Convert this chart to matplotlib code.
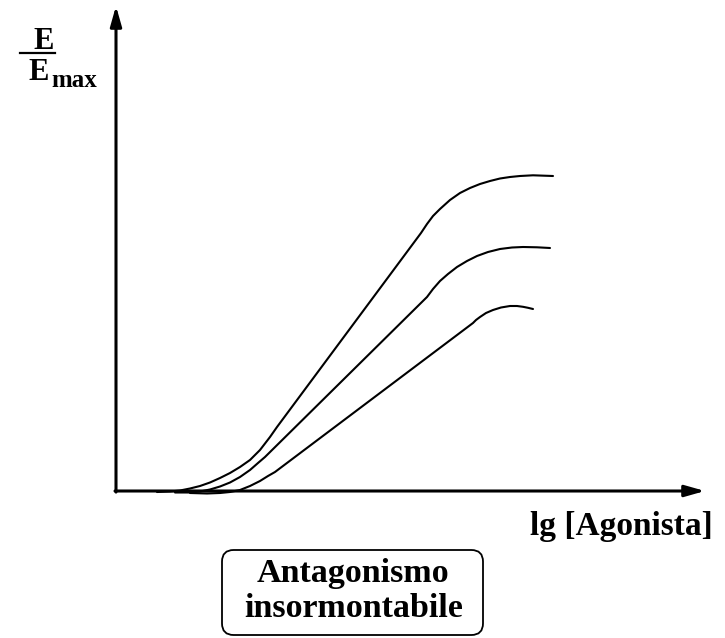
import matplotlib
matplotlib.use("Agg")
import matplotlib.pyplot as plt
from matplotlib.patches import FancyBboxPatch
from matplotlib.lines import Line2D

# Dose-response curves: x = lg[agonist] (arbitrary units), y = effect (% of scale)
# Control curve
lg_a = [0.82, 1.08, 1.28, 1.48, 1.68, 1.88, 2.08, 2.28, 2.48, 2.68, 2.88, 3.08, 3.22,
        6.10, 6.22, 6.34, 6.48, 6.68, 6.88, 7.08, 7.28, 7.48, 7.68, 7.88, 8.08, 8.34, 8.74]
eff_a = [-0.25, -0.125, 0.125, 0.625, 1.25, 2.125, 3.25, 4.5, 6.0, 7.75, 10.25, 13.5, 16.0,
         64.5, 66.75, 68.75, 70.5, 72.75, 74.5, 75.75, 76.75, 77.5, 78.125, 78.5, 78.75, 78.925, 78.75]
# Low antagonist concentration
lg_b = [1.18, 1.48, 1.68, 1.88, 2.08, 2.28, 2.48, 2.68, 2.84, 2.98,
        6.22, 6.34, 6.48, 6.64, 6.82, 7.02, 7.22, 7.44, 7.68, 7.92, 8.14, 8.42, 8.68]
eff_b = [-0.375, -0.375, -0.125, 0.375, 1.125, 2.125, 3.5, 5.25, 7.0, 8.5,
         48.5, 50.5, 52.5, 54.25, 56.0, 57.5, 58.75, 59.75, 60.5, 60.875, 61.0, 60.925, 60.75]
# High antagonist concentration
lg_c = [1.48, 1.82, 2.08, 2.28, 2.48, 2.68, 2.88, 3.04, 3.18,
        7.14, 7.20, 7.28, 7.40, 7.54, 7.70, 7.88, 8.02, 8.14, 8.24, 8.34]
eff_c = [-0.5, -0.625, -0.5, -0.25, 0.25, 1.25, 2.5, 3.75, 4.75,
         42.0, 42.75, 43.5, 44.5, 45.25, 45.875, 46.25, 46.25, 46.05, 45.8, 45.5]

series = [(lg_a, eff_a), (lg_b, eff_b), (lg_c, eff_c)]

y_label_top = "E"
y_label_bottom = "E"
y_label_sub = "max"
x_label = "lg [Agonista]"
box_lines = ["Antagonismo", "insormontabile"]

W, H = 725, 638
fig = plt.figure(figsize=(W / 100, H / 100), dpi=100)
ax = fig.add_axes([0, 0, 1, 1])
ax.set_xlim(-2.32, 12.18)
ax.set_ylim(-36.75, 122.75)
ax.axis("off")

for xs, ys in series:
    ax.plot(xs, ys, color="black", lw=1.5, solid_capstyle="round", solid_joinstyle="round")

# Axes with arrowheads
x_end, y_end = 11.78, 121.25
arrow = dict(arrowstyle="-|>,head_length=12,head_width=3.4", color="black",
             lw=2.2, shrinkA=0, shrinkB=0, mutation_scale=1)
ax.annotate("", xy=(x_end, 0), xytext=(-0.02, 0), arrowprops=arrow)
ax.annotate("", xy=(0, y_end), xytext=(0, -0.27), arrowprops=arrow)


def fx(px):
    return px / W


def fy(py):
    return 1 - py / H


serif = dict(family="Liberation Serif", fontweight="bold", color="black")

# E / E_max label
fig.text(fx(43.5), fy(49), y_label_top, fontsize=22, ha="center", va="baseline", **serif)
fig.add_artist(Line2D([fx(20), fx(55)], [fy(52.5), fy(52.5)], color="black", lw=1.6,
                      transform=fig.transFigure))
fig.text(fx(28), fy(80), y_label_bottom, fontsize=22, ha="left", va="baseline", **serif)
fig.text(fx(51), fy(87), y_label_sub, fontsize=18, ha="left", va="baseline", **serif)

# x-axis label
fig.text(fx(713), fy(535), x_label, fontsize=24, ha="right", va="baseline", **serif)

# Boxed caption
box = FancyBboxPatch((fx(222), fy(635)), fx(483) - fx(222), fy(550) - fy(635),
                     boxstyle="round,pad=0,rounding_size=0.016",
                     transform=fig.transFigure, fc="white", ec="black", lw=1.3,
                     mutation_aspect=W / H)
fig.add_artist(box)
fig.text(fx(353), fy(582), box_lines[0], fontsize=24.5, ha="center", va="baseline", **serif)
fig.text(fx(354), fy(617), box_lines[1], fontsize=24.5, ha="center", va="baseline", **serif)

fig.savefig("out.png", dpi=100)
